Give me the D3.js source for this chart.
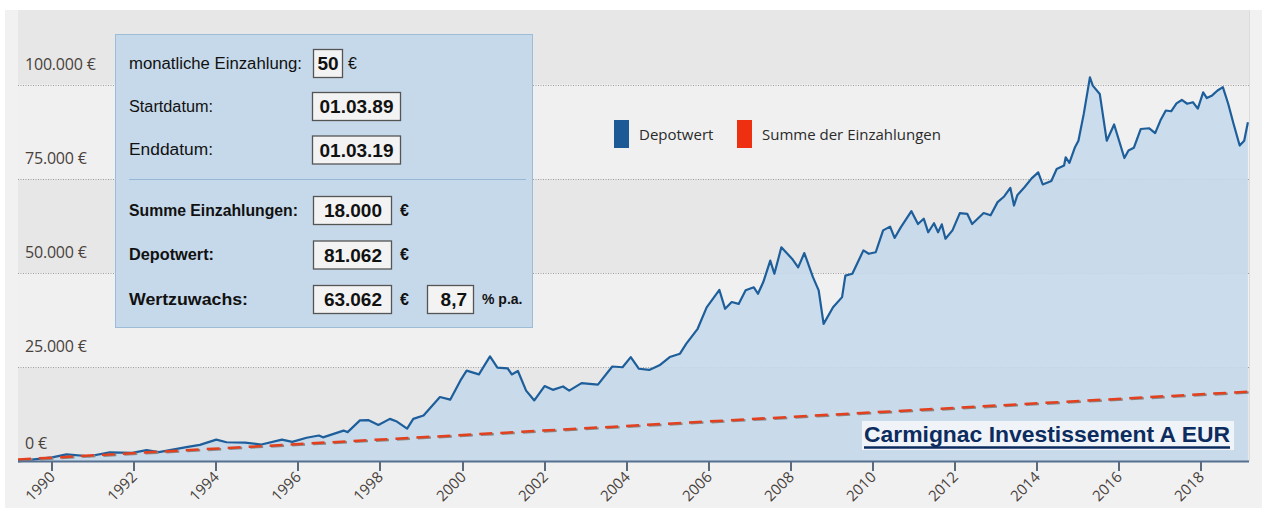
<!doctype html>
<html>
<head>
<meta charset="utf-8">
<style>
	body{margin:0;background:#fff;}
	svg{display:block;}
	.lbl{font-family:"Open Sans",sans-serif;fill:#48413c;}
	.box text{font-family:"Liberation Sans",Arial,sans-serif;fill:#111;}
</style>
</head>
<body>
<div id="chart"></div>
<script src="https://d3js.org/d3.v7.min.js"></script>
<script>

// ---- data ----
var years = [1989.17, 1989.5, 1990.0, 1990.35, 1990.9, 1991.4, 1991.95, 1992.3, 1992.6, 1993.27, 1993.6,
	1994.0, 1994.25, 1994.7, 1995.1, 1995.6, 1995.85, 1996.2, 1996.5, 1996.6, 1997.1, 1997.2, 1997.5,
	1997.7, 1997.95, 1998.23, 1998.4, 1998.65, 1998.8, 1999.05, 1999.45, 1999.7, 1999.95, 2000.1,
	2000.4, 2000.67, 2000.85, 2001.1, 2001.2, 2001.35, 2001.55, 2001.75, 2002.0, 2002.2, 2002.45,
	2002.6, 2002.9, 2003.3, 2003.65, 2003.9, 2004.1, 2004.3, 2004.55, 2004.8, 2005.05, 2005.3,
	2005.45, 2005.73, 2005.95, 2006.26, 2006.4, 2006.56, 2006.73, 2006.9, 2007.1, 2007.2, 2007.33,
	2007.5, 2007.6, 2007.77, 2008.03, 2008.18, 2008.33, 2008.54, 2008.68, 2008.8, 2009.03, 2009.25,
	2009.33, 2009.5, 2009.77, 2009.9, 2010.07, 2010.25, 2010.42, 2010.53, 2010.68, 2010.94, 2011.1,
	2011.24, 2011.35, 2011.49, 2011.59, 2011.68, 2011.77, 2011.94, 2012.12, 2012.3, 2012.42, 2012.7,
	2012.87, 2013.04, 2013.2, 2013.35, 2013.44, 2013.52, 2013.7, 2013.87, 2014.03, 2014.14, 2014.35,
	2014.48, 2014.66, 2014.7, 2014.79, 2014.92, 2015.01, 2015.14, 2015.29, 2015.36, 2015.53, 2015.7,
	2015.88, 2016.13, 2016.23, 2016.36, 2016.53, 2016.73, 2016.88, 2017.01, 2017.14, 2017.27, 2017.4,
	2017.53, 2017.66, 2017.8, 2017.92, 2018.05, 2018.14, 2018.27, 2018.4, 2018.53, 2018.66, 2018.79,
	2018.94, 2019.05, 2019.14];
var depot = [50, 500, 1100, 1900, 1400, 2400, 2300, 3000, 2500, 3800, 4400,
	5800, 5100, 5000, 4500, 5800, 5200, 6300, 6900, 6400, 8200, 7800, 10900,
	11000, 9700, 11300, 10600, 8700, 11300, 12200, 17100, 16400, 21500, 24100,
	23100, 27900, 24900, 24700, 23100, 24000, 18800, 16200, 20000, 19000, 19900,
	18800, 20800, 20400, 25200, 25000, 27700, 24600, 24300, 25500, 27700, 28600,
	31200, 35200, 40900, 45500, 40500, 42300, 41800, 45400, 46200, 44500, 47600,
	53300, 49800, 56800, 53800, 51500, 55300, 48900, 45400, 36500, 40900, 43600,
	49300, 49800, 56000, 55100, 55500, 61300, 62300, 59300, 62100, 66400, 63000,
	64400, 60800, 63200, 60800, 62900, 59100, 61300, 65900, 65700, 63000, 65900,
	65300, 68800, 70300, 72600, 67900, 70600, 72800, 75100, 76700, 73500, 74400,
	77600, 78500, 80700, 79200, 83200, 85100, 92200, 101900, 99700, 97500, 85100,
	89400, 80500, 82500, 83200, 88200, 88400, 87100, 90500, 93100, 92900, 95000,
	95900, 94900, 95300, 93600, 97900, 96400, 97100, 98400, 99300, 94900, 89600,
	83800, 85100, 90000];
var sumYears = [1989.167, 2019.167];
var sumValues = [0, 18000];

var yTicks = [0, 25000, 50000, 75000, 100000];
var yTickLabels = ['0 €', '25.000 €', '50.000 €', '75.000 €', '100.000 €'];
var xTicks = [1990, 1992, 1994, 1996, 1998, 2000, 2002, 2004, 2006, 2008, 2010, 2012, 2014, 2016, 2018];
var legendLabels = ['Depotwert', 'Summe der Einzahlungen'];
var fundName = 'Carmignac Investissement A EUR';
var infoLabels = ['monatliche Einzahlung:', 'Startdatum:', 'Enddatum:', 'Summe Einzahlungen:', 'Depotwert:', 'Wertzuwachs:'];
var infoValues = ['50', '01.03.89', '01.03.19', '18.000', '81.062', '63.062'];
var growthPct = '8,7';

// ---- layout ----
var W = 1267, H = 508;
var plot = {left: 18, right: 1249, top: 10, bottom: 461};

var x = d3.scaleLinear().domain([1989.167, 2019.167]).range([plot.left, plot.right]);
var y = d3.scaleLinear().domain([0, 100000]).range([461.5, 84.5]);

var svg = d3.select('#chart').append('svg').attr('width', W).attr('height', H);

svg.append('rect').attr('x', 5).attr('y', 10).attr('width', 1257).attr('height', H - 10).attr('fill', '#f1f1f1');

// alternating bands
var bandEdges = [plot.bottom, y(25000), y(50000), y(75000), y(100000), plot.top];
for (var i = 0; i < bandEdges.length - 1; i++) {
	svg.append('rect')
		.attr('x', plot.left).attr('width', plot.right - plot.left)
		.attr('y', bandEdges[i + 1]).attr('height', bandEdges[i] - bandEdges[i + 1])
		.attr('fill', i % 2 === 0 ? '#e7e7e7' : '#f0f0f0');
}
svg.append('line').attr('x1', plot.right + 0.5).attr('x2', plot.right + 0.5)
	.attr('y1', plot.top).attr('y2', plot.bottom).attr('stroke', '#dcdcdc');

// dotted gridlines
svg.selectAll('line.grid')
	.data(yTicks.slice(1))
	.enter().append('line')
	.attr('x1', plot.left).attr('x2', plot.right)
	.attr('y1', function(d){ return Math.round(y(d)) + 0.5; })
	.attr('y2', function(d){ return Math.round(y(d)) + 0.5; })
	.attr('stroke', '#a0a0a0').attr('stroke-dasharray', '1,1.5');

// y labels
svg.selectAll('text.ylab')
	.data(yTicks)
	.enter().append('text')
	.attr('class', 'lbl')
	.attr('x', 25)
	.attr('y', function(d){ return Math.min(y(d), plot.bottom) - (d === 0 ? 12 : 15); })
	.style('font-size', '16px')
	.style('letter-spacing', '-0.2px')
	.text(function(d, i){ return yTickLabels[i]; });

var depotData = years.map(function(yr, i){ return [yr, depot[i]]; });
var sumData = sumYears.map(function(yr, i){ return [yr, sumValues[i]]; });

var area = d3.area()
	.x(function(d){ return x(d[0]); })
	.y0(plot.bottom)
	.y1(function(d){ return y(d[1]); });

var line = d3.line()
	.x(function(d){ return x(d[0]); })
	.y(function(d){ return y(d[1]); });

svg.append('path').datum(depotData)
	.attr('d', area)
	.attr('fill', '#c5d9ea').attr('fill-opacity', 0.88);

svg.append('path').datum(depotData)
	.attr('d', line)
	.attr('fill', 'none').attr('stroke', '#1d5e9b').attr('stroke-width', 2.2)
	.attr('stroke-linejoin', 'round');

// deposits line, gray shadow under the red dashes
svg.append('path').datum(sumData)
	.attr('d', line)
	.attr('transform', 'translate(1.5,-1.2)')
	.attr('fill', 'none').attr('stroke', '#8a8a8a').attr('stroke-width', 2.5)
	.attr('stroke-dasharray', '13,8');
svg.append('path').datum(sumData)
	.attr('d', line)
	.attr('transform', 'translate(0,-2)')
	.attr('fill', 'none').attr('stroke', '#e2401f').attr('stroke-width', 2.5)
	.attr('stroke-dasharray', '13,8');

// x axis
svg.append('line')
	.attr('x1', plot.left).attr('x2', plot.right)
	.attr('y1', plot.bottom + 0.5).attr('y2', plot.bottom + 0.5)
	.attr('stroke', '#56718f').attr('stroke-width', 2);

var xt = svg.selectAll('g.xt')
	.data(xTicks)
	.enter().append('g')
	.attr('transform', function(d){ return 'translate(' + Math.round(x(d)) + ',0)'; });
xt.append('line')
	.attr('y1', plot.bottom + 1).attr('y2', plot.bottom + 10)
	.attr('stroke', '#5b6b7b').attr('stroke-width', 2);
xt.append('text')
	.attr('class', 'lbl')
	.attr('transform', 'translate(4,478) rotate(-45)')
	.attr('text-anchor', 'end')
	.style('font-size', '15px')
	.text(function(d){ return d; });

// legend
var legendColors = ['#1c5a96', '#ee3010'];
var legendX = [614, 737];
legendLabels.forEach(function(l, i){
	svg.append('rect').attr('x', legendX[i]).attr('y', 120).attr('width', 15).attr('height', 28)
		.attr('fill', legendColors[i]);
	svg.append('text').attr('class', 'lbl')
		.attr('x', legendX[i] + 25).attr('y', 139.5)
		.style('font-size', '15px').style('fill', '#2a2a2a')
		.text(l);
});

// fund name
svg.append('rect').attr('x', 862).attr('y', 421).attr('width', 372).attr('height', 29)
	.attr('fill', '#f0f4f8');
svg.append('text')
	.attr('x', 864).attr('y', 442)
	.attr('textLength', 366).attr('lengthAdjust', 'spacingAndGlyphs')
	.style('font-family', '"Liberation Sans",Arial,sans-serif')
	.style('font-weight', 'bold').style('font-size', '22px')
	.attr('fill', '#0c2b5e')
	.text(fundName);
svg.append('line').attr('x1', 864).attr('x2', 1230)
	.attr('y1', 447.5).attr('y2', 447.5)
	.attr('stroke', '#0c2b5e').attr('stroke-width', 2.5);

// info box
var box = svg.append('g').attr('class', 'box');
box.append('rect').attr('x', 115.5).attr('y', 34.5).attr('width', 417).attr('height', 293)
	.attr('fill', '#c6d9ea').attr('stroke', '#9dbcd8');
box.append('line').attr('x1', 129).attr('x2', 526).attr('y1', 179.5).attr('y2', 179.5)
	.attr('stroke', '#97b7d4');

var rowY = [63, 106, 149.5, 210, 254.5, 299];
var boxX = [313, 312, 312, 313, 313, 313];
var boxW = [29, 88, 88, 78, 78, 78];
var labelW = [173, 84, 84, 169, 85, 119];
infoLabels.forEach(function(l, i){
	box.append('text').attr('x', 129).attr('y', rowY[i] + 5.5)
		.attr('textLength', labelW[i]).attr('lengthAdjust', 'spacingAndGlyphs')
		.style('font-size', '16px')
		.style('font-weight', i >= 3 ? 'bold' : 'normal')
		.text(l);
	box.append('rect').attr('x', boxX[i] + 0.5).attr('y', rowY[i] - 14 + 0.5)
		.attr('width', boxW[i]).attr('height', 28)
		.attr('fill', '#f3f3f3').attr('stroke', '#555').attr('stroke-width', 1.3);
	var t = box.append('text').attr('y', rowY[i] + 7)
		.style('font-size', '19px').style('font-weight', 'bold')
		.text(infoValues[i]);
	if (i >= 3) t.attr('x', boxX[i] + boxW[i] - 9).attr('text-anchor', 'end');
	else t.attr('x', boxX[i] + boxW[i] / 2 + 0.5).attr('text-anchor', 'middle');
	if (i === 0 || i >= 3) {
		box.append('text').attr('x', i === 0 ? 348 : 400).attr('y', rowY[i] + 5.5)
			.style('font-size', '16px').style('font-weight', i === 0 ? 'normal' : 'bold')
			.text('€');
	}
});
box.append('rect').attr('x', 427.5).attr('y', rowY[5] - 14 + 0.5).attr('width', 46).attr('height', 28)
	.attr('fill', '#f3f3f3').attr('stroke', '#555').attr('stroke-width', 1.3);
box.append('text').attr('x', 467).attr('y', rowY[5] + 7).attr('text-anchor', 'end')
	.style('font-size', '19px').style('font-weight', 'bold').text(growthPct);
box.append('text').attr('x', 482).attr('y', rowY[5] + 5)
	.style('font-size', '14px').style('font-weight', 'bold').text('% p.a.');

</script>
</body>
</html>
